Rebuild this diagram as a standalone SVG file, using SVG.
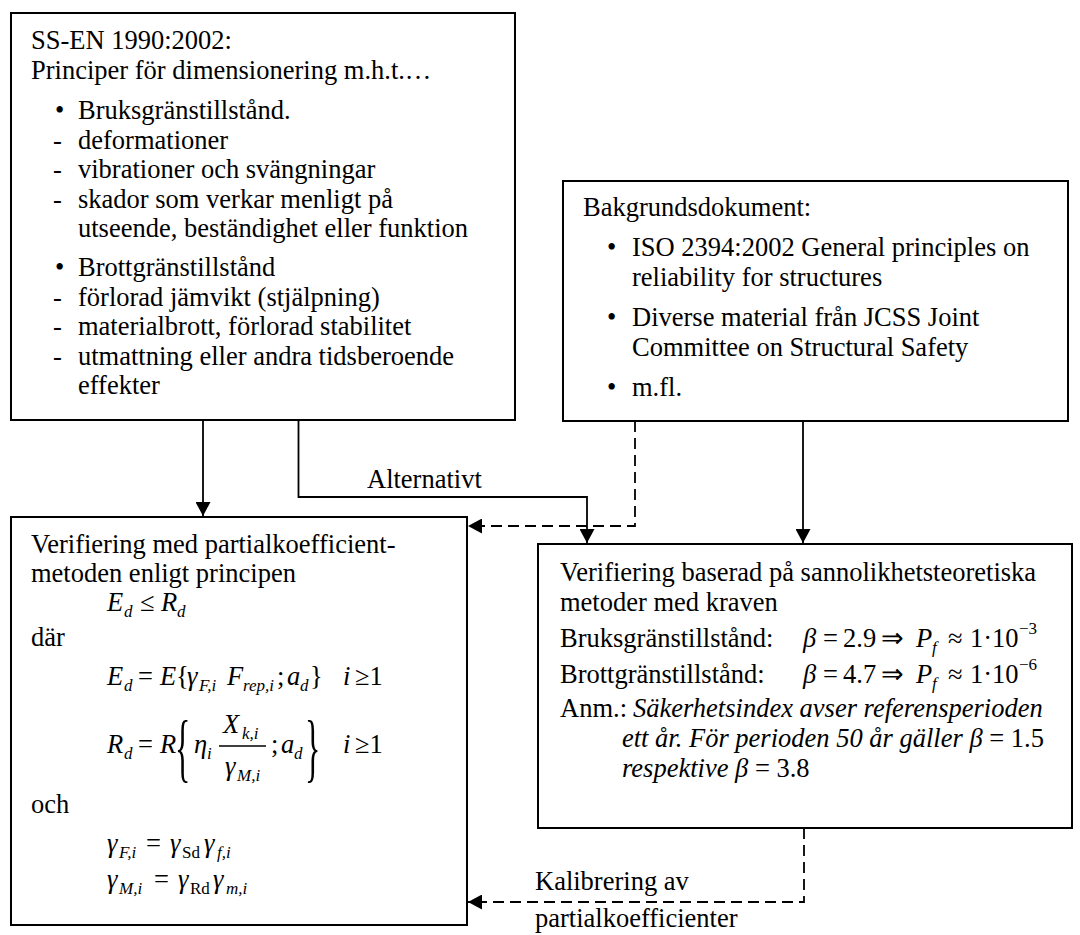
<svg xmlns="http://www.w3.org/2000/svg" width="1080" height="935" viewBox="0 0 1080 935" font-family="'Liberation Serif', serif">
<defs>
<style>
text{font-family:"Liberation Serif",serif;font-size:26.5px;fill:#000}
.i{font-style:italic}
.s{font-size:17px}
.box{fill:#fff;stroke:#000;stroke-width:2}
.ln{fill:none;stroke:#000;stroke-width:1.8}
.dash{stroke-dasharray:11 6}
.br{font-size:76px}
</style>
<marker id="ah" viewBox="0 0 14 15" refX="14" refY="7.5" markerWidth="14" markerHeight="15" markerUnits="userSpaceOnUse" orient="auto">
<path d="M0,0 L14,7.5 L0,15 Z" fill="#000"/>
</marker>
</defs>
<rect width="1080" height="935" fill="#fff"/>

<g id="connectors">
<path class="ln" d="M203,421 V516" marker-end="url(#ah)"/>
<path class="ln" d="M298.5,421 V497 H587 V543" marker-end="url(#ah)"/>
<path class="ln dash" d="M635,421 V526 H468" marker-end="url(#ah)"/>
<path class="ln" d="M803,421 V543" marker-end="url(#ah)"/>
<path class="ln dash" d="M804,828 V902 H468" marker-end="url(#ah)"/>
<text x="367" y="488">Alternativt</text>
<text x="535" y="890">Kalibrering av</text>
<text x="535" y="927">partialkoefficienter</text>
</g>

<g id="node-en1990">
<rect class="box" x="11" y="13" width="504" height="407"/>
<text x="31" y="49">SS-EN 1990:2002:</text>
<text x="31" y="79">Principer för dimensionering m.h.t.…</text>
<text x="55" y="119">•</text><text x="78" y="119">Bruksgränstillstånd.</text>
<text x="53" y="149">-</text><text x="78" y="149">deformationer</text>
<text x="53" y="178">-</text><text x="78" y="178">vibrationer och svängningar</text>
<text x="53" y="208">-</text><text x="78" y="208">skador som verkar menligt på</text>
<text x="78" y="237">utseende, beständighet eller funktion</text>
<text x="55" y="276">•</text><text x="78" y="276">Brottgränstillstånd</text>
<text x="53" y="306">-</text><text x="78" y="306">förlorad jämvikt (stjälpning)</text>
<text x="53" y="335">-</text><text x="78" y="335">materialbrott, förlorad stabilitet</text>
<text x="53" y="365">-</text><text x="78" y="365">utmattning eller andra tidsberoende</text>
<text x="78" y="394">effekter</text>
</g>

<g id="node-bakgrund">
<rect class="box" x="563" y="181" width="505" height="240"/>
<text x="583" y="216">Bakgrundsdokument:</text>
<text x="607" y="256">•</text><text x="632" y="256">ISO 2394:2002 General principles on</text>
<text x="632" y="286">reliability for structures</text>
<text x="607" y="326">•</text><text x="632" y="326">Diverse material från JCSS Joint</text>
<text x="632" y="356">Committee on Structural Safety</text>
<text x="607" y="396">•</text><text x="632" y="396">m.fl.</text>
</g>

<g id="node-partial">
<rect class="box" x="11" y="517" width="456" height="408"/>
<text x="31" y="553">Verifiering med partialkoefficient-</text>
<text x="31" y="582">metoden enligt principen</text>
<text x="107" y="611" class="i">E</text><text x="124" y="617" class="i s">d</text>
<text x="140" y="611">≤</text>
<text x="161" y="611" class="i">R</text><text x="177" y="617" class="i s">d</text>
<text x="31" y="646">där</text>
<text x="107" y="685" class="i">E</text><text x="124" y="691" class="i s">d</text>
<text x="138" y="685">=</text>
<text x="160" y="685" class="i">E</text>
<text x="176" y="685">{</text>
<text x="187" y="685" class="i">γ</text><text x="199" y="691" class="i s">F,i</text>
<text x="227" y="685" class="i">F</text><text x="243" y="691" class="i s">rep,i</text>
<text x="277" y="685">;</text>
<text x="287" y="685" class="i">a</text><text x="300" y="691" class="i s">d</text>
<text x="310" y="685">}</text>
<text x="343" y="685" class="i">i</text><text x="355" y="685">≥1</text>

<text x="107" y="753" class="i">R</text><text x="124" y="759" class="i s">d</text>
<text x="138" y="753">=</text>
<text x="160" y="753" class="i">R</text>
<text class="br" transform="translate(175,773) scale(0.42,1)">{</text>
<text x="194" y="753" class="i">η</text><text x="207" y="759" class="i s">i</text>
<text x="223" y="733" class="i">X</text><text x="242" y="739" class="i s">k,i</text>
<line x1="219" y1="746" x2="266" y2="746" stroke="#000" stroke-width="1.3"/>
<text x="225" y="775" class="i">γ</text><text x="237" y="781" class="i s">M,i</text>
<text x="271" y="753">;</text>
<text x="281" y="753" class="i">a</text><text x="294" y="759" class="i s">d</text>
<text class="br" transform="translate(305,773) scale(0.42,1)">}</text>
<text x="343" y="753" class="i">i</text><text x="355" y="753">≥1</text>

<text x="31" y="813">och</text>
<text x="107" y="852" class="i">γ</text><text x="119" y="858" class="i s">F,i</text>
<text x="146" y="852">=</text>
<text x="170" y="852" class="i">γ</text><text x="182" y="858" class="s">Sd</text>
<text x="204" y="852" class="i">γ</text><text x="217" y="858" class="i s">f,i</text>
<text x="107" y="888" class="i">γ</text><text x="119" y="894" class="i s">M,i</text>
<text x="154" y="888">=</text>
<text x="178" y="888" class="i">γ</text><text x="190" y="894" class="s">Rd</text>
<text x="213" y="888" class="i">γ</text><text x="226" y="894" class="i s">m,i</text>
</g>

<g id="node-probabilistic">
<rect class="box" x="538" y="544" width="534" height="284"/>
<text x="560" y="581">Verifiering baserad på sannolikhetsteoretiska</text>
<text x="560" y="611">metoder med kraven</text>
<text x="560" y="647">Bruksgränstillstånd:</text>
<text x="803" y="647" class="i">β</text>
<text x="823" y="647">=</text>
<text x="843" y="647">2.9</text>
<text x="881" y="647">⇒</text>
<text x="916" y="647" class="i">P</text><text x="932" y="653" class="i s">f</text>
<text x="948" y="647">≈</text>
<text x="970" y="647">1·10</text><text x="1019" y="634" class="s">−3</text>
<text x="560" y="683">Brottgränstillstånd:</text>
<text x="803" y="683" class="i">β</text>
<text x="823" y="683">=</text>
<text x="843" y="683">4.7</text>
<text x="881" y="683">⇒</text>
<text x="916" y="683" class="i">P</text><text x="932" y="689" class="i s">f</text>
<text x="948" y="683">≈</text>
<text x="970" y="683">1·10</text><text x="1019" y="670" class="s">−6</text>
<text x="560" y="717">Anm.:</text>
<text x="633" y="717" class="i">Säkerhetsindex avser referensperioden</text>
<text x="622" y="747"><tspan class="i">ett år. För perioden 50 år gäller β</tspan> = 1.5</text>
<text x="622" y="777"><tspan class="i">respektive β</tspan> = 3.8</text>
</g>
</svg>
